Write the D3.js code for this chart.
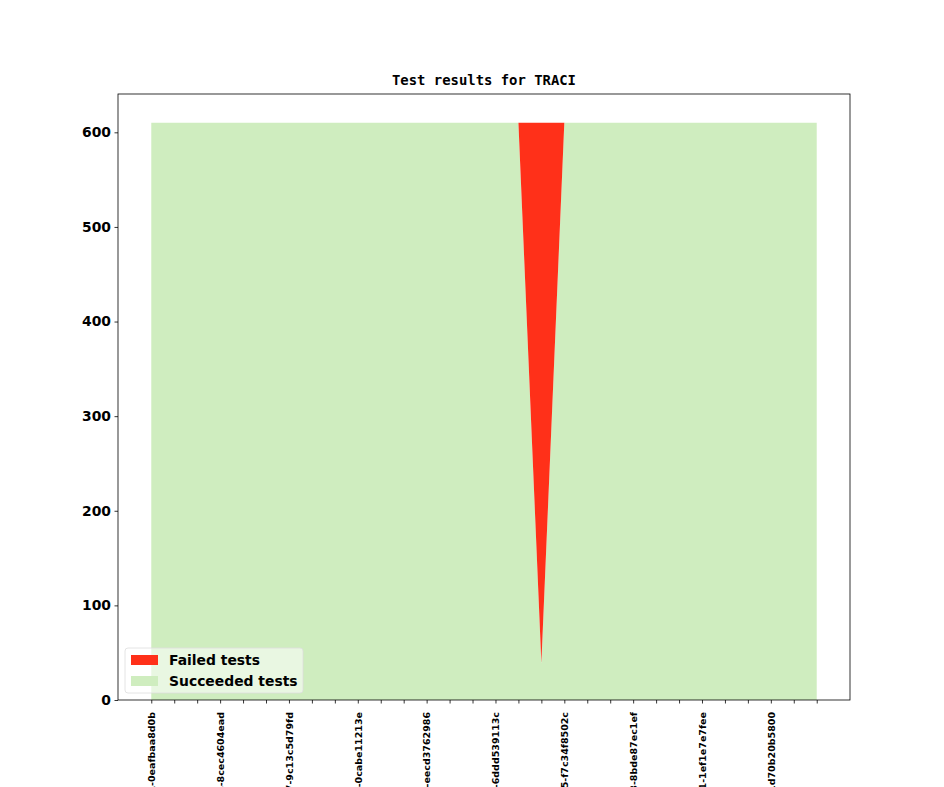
<!DOCTYPE html>
<html lang="en">
<head>
<meta charset="UTF-8" />
<title>Test results for TRACI</title>
<script src="https://d3js.org/d3.v7.min.js"></script>
<style>
    body { margin: 0; background: #fff; }
    svg { display: block; }
    .tick text { font-family: "DejaVu Sans", sans-serif; font-weight: bold; }
</style>
</head>
<body>
<svg id="chart" width="944" height="787"></svg>
<script>
    // Data: one entry per build
    var builds = [
        "v1_16_0+0101-0eafbaa8d0b", "v1_16_0+0102-3a1b9c0d2e4", "v1_16_0+0103-5d7e2f9a1b3",
        "v1_16_0+0104-8cec4604ead", "v1_16_0+0105-2b4c6d8e0f1", "v1_16_0+0106-7f1e3d5c9b2",
        "v1_16_0+0107-9c13c5d79fd", "v1_16_0+0108-4e6a8c0b2d3", "v1_16_0+0109-1a3c5e7f9b0",
        "v1_16_0+0110-0cabe11213e", "v1_16_0+0111-6b8d0f2a4c5", "v1_16_0+0112-3e5a7c9d1f2",
        "v1_16_0+0113-eecd3762986", "v1_16_0+0114-8a0c2e4b6d7", "v1_16_0+0115-5c7e9a1d3f4",
        "v1_16_0+0116-6ddd539113c", "v1_16_0+0117-2d4f6b8c0e9", "v1_16_0+0118-9f1b3d5a7c6",
        "v1_16_0+0125-f7c34f8502c", "v1_16_0+0126-7b9d1f3e5a8", "v1_16_0+0127-4a6c8e0d2f1",
        "v1_16_0+0128-8bde87ec1ef", "v1_16_0+0129-1c3e5a7b9d0", "v1_16_0+0130-6e8a0c2f4b3",
        "v1_16_0+0131-1ef1e7e7fee", "v1_16_0+0132-3b5d7f9a1c2", "v1_16_0+0133-0d2f4b6e8a5",
        "v1_16_0+01d70b20b5800", "v1_16_0+0135-5f7b9d1c3e4", "v1_16_0+0136-2a4c6e8d0b7"
    ];
    var succeeded = [610, 610, 610, 610, 610, 610, 610, 610, 610, 610,
                     610, 610, 610, 610, 610, 610, 610, 39, 610, 610,
                     610, 610, 610, 610, 610, 610, 610, 610, 610, 610];
    var failed = [0, 0, 0, 0, 0, 0, 0, 0, 0, 0,
                  0, 0, 0, 0, 0, 0, 0, 571, 0, 0,
                  0, 0, 0, 0, 0, 0, 0, 0, 0, 0];
    var yTicks = [0, 100, 200, 300, 400, 500, 600];
    var labelEvery = 3;

    var seriesNames = ["Succeeded tests", "Failed tests"];
    var colors = { "Succeeded tests": "#cfedbf", "Failed tests": "#ff3019" };

    // Plot area (names avoid window.top)
    var plotLeft = 118, plotRight = 850, plotTop = 94, plotBottom = 700;
    var svg = d3.select("#chart");

    // Table for the stack
    var table = builds.map(function (b, i) {
        return { i: i, "Succeeded tests": succeeded[i], "Failed tests": failed[i] };
    });
    var stacked = d3.stack().keys(seriesNames)(table);

    var n = builds.length;
    var pad = (n - 1) * 0.05;
    var xScale = d3.scaleLinear()
        .domain([-pad, n - 1 + pad])
        .range([plotLeft, plotRight]);

    var maxTotal = d3.max(table, d => d["Succeeded tests"] + d["Failed tests"]);
    var yScale = d3.scaleLinear()
        .domain([0, maxTotal * 1.05])
        .range([plotBottom, plotTop]);

    var area = d3.area()
        .x(d => xScale(d.data.i))
        .y0(d => yScale(d[0]))
        .y1(d => yScale(d[1]));

    svg.append("g")
        .selectAll("path")
        .data(stacked)
        .enter()
        .append("path")
        .attr("d", area)
        .attr("fill", d => colors[d.key]);

    // Y axis
    var yAxis = d3.axisLeft(yScale).tickValues(yTicks).tickSize(3.5).tickPadding(3.5);
    var gy = svg.append("g").attr("transform", "translate(" + plotLeft + ",0)").call(yAxis);
    gy.select(".domain").remove();
    gy.selectAll(".tick line").attr("stroke", "#000").attr("stroke-width", 0.8);
    gy.selectAll(".tick text").style("font-size", "13.9px").attr("fill", "#000");

    // X axis: tick on every build, label on every third
    var xAxis = d3.axisBottom(xScale)
        .tickValues(d3.range(n))
        .tickSize(3.5)
        .tickFormat(i => i % labelEvery === 0 ? builds[i] : "");
    var gx = svg.append("g").attr("transform", "translate(0," + plotBottom + ")").call(xAxis);
    gx.select(".domain").remove();
    gx.selectAll(".tick line").attr("stroke", "#000").attr("stroke-width", 0.8);
    gx.selectAll(".tick text")
        .style("font-size", "9.5px")
        .attr("fill", "#000")
        .attr("text-anchor", "end")
        .attr("dy", "0.35em")
        .attr("transform", "translate(0,12) rotate(-90)")
        .attr("x", 0)
        .attr("y", 0);

    // Frame
    svg.append("rect")
        .attr("x", plotLeft).attr("y", plotTop)
        .attr("width", plotRight - plotLeft).attr("height", plotBottom - plotTop)
        .attr("fill", "none").attr("stroke", "#000").attr("stroke-width", 0.8);

    // Title
    svg.append("text")
        .attr("x", (plotLeft + plotRight) / 2)
        .attr("y", plotTop - 9)
        .attr("text-anchor", "middle")
        .style("font-family", "'DejaVu Sans Mono', monospace")
        .style("font-weight", "bold")
        .style("font-size", "13.9px")
        .text("Test results for TRACI");

    // Legend (failed listed first)
    var legend = svg.append("g").attr("transform", "translate(125,648)");
    legend.append("rect")
        .attr("width", 178).attr("height", 45).attr("rx", 3)
        .attr("fill", "#fff").attr("fill-opacity", 0.55)
        .attr("stroke", "#ddd").attr("stroke-width", 0.8);
    ["Failed tests", "Succeeded tests"].forEach(function (name, k) {
        var row = legend.append("g").attr("transform", "translate(6," + (7 + k * 21) + ")");
        row.append("rect").attr("width", 27).attr("height", 10).attr("fill", colors[name]);
        row.append("text")
            .attr("x", 38).attr("y", 10)
            .style("font-family", "'DejaVu Sans', sans-serif")
            .style("font-weight", "bold")
            .style("font-size", "13.9px")
            .text(name);
    });
</script>
</body>
</html>
